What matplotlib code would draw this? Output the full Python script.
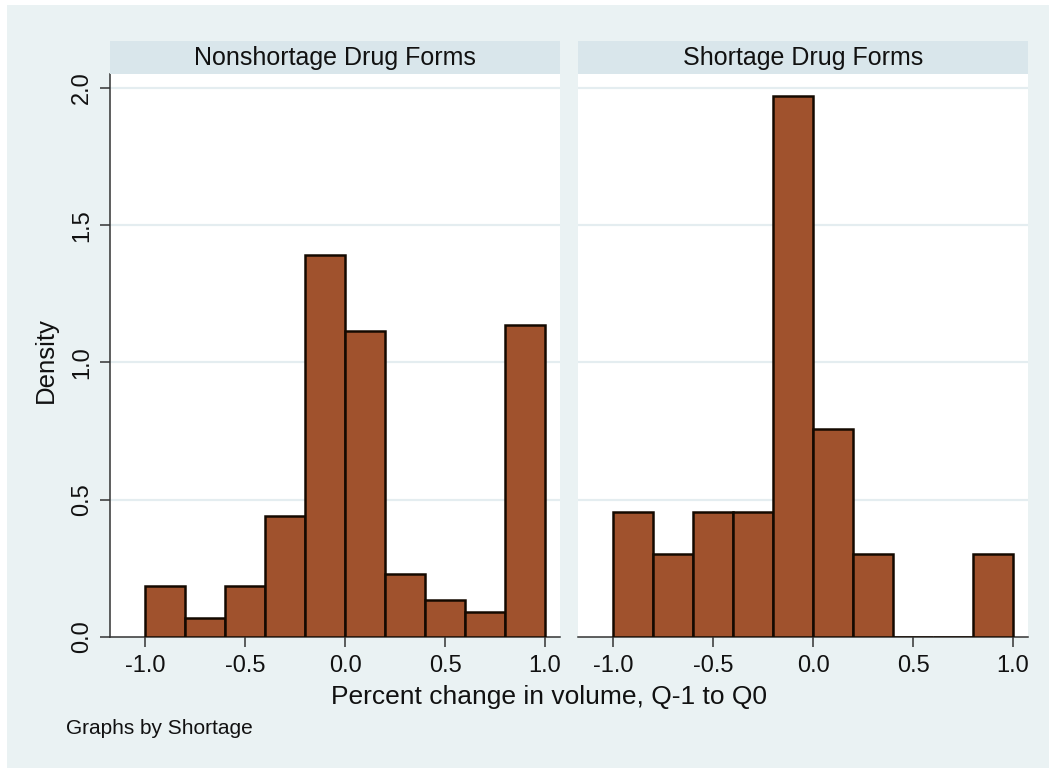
import matplotlib.pyplot as plt
from matplotlib.patches import Rectangle

plt.rcParams['font.family'] = ['Liberation Sans', 'DejaVu Sans']

# histogram bins (width 0.2) and density per bin for each group
bin_edges = [-1.0, -0.8, -0.6, -0.4, -0.2, 0.0, 0.2, 0.4, 0.6, 0.8]
bin_width = 0.2
nonshortage_density = [0.184, 0.068, 0.184, 0.439, 1.392, 1.113, 0.229, 0.136, 0.091, 1.136]
shortage_density = [0.455, 0.303, 0.455, 0.455, 1.970, 0.758, 0.303, 0.0, 0.0, 0.303]

panel_titles = ['Nonshortage Drug Forms', 'Shortage Drug Forms']
x_ticks = [-1.0, -0.5, 0.0, 0.5, 1.0]
y_ticks = [0.0, 0.5, 1.0, 1.5, 2.0]

W, H = 1049, 768
BG = '#eaf2f3'
STRIP = '#d9e6eb'
BAR = '#a0522d'
EDGE = '#140900'
AXIS = '#333333'
TXT = '#111111'


def px(x0, y0, x1, y1):
    return [x0 / W, 1 - y1 / H, (x1 - x0) / W, (y1 - y0) / H]


fig = plt.figure(figsize=(W / 100, H / 100), dpi=100)
fig.patch.set_facecolor('white')
fig.patches.append(Rectangle((7 / W, 0), 1, 1 - 5 / H, transform=fig.transFigure,
                             facecolor=BG, edgecolor='none', zorder=-10))

panels = [(110, 560, nonshortage_density), (578, 1028, shortage_density)]
for i, (x0, x1, dens) in enumerate(panels):
    ax = fig.add_axes(px(x0, 74, x1, 637))
    ax.set_facecolor('white')
    ax.bar(bin_edges, dens, width=bin_width, align='edge', color=BAR,
           edgecolor=EDGE, linewidth=1.8, zorder=3)
    ax.set_xlim(-1.175, 1.075)
    ax.set_ylim(0, 2.051)
    for yv in y_ticks[1:]:
        ax.axhline(yv, color='#e4edf0', lw=1.6, zorder=1)
    ax.set_xticks(x_ticks)
    ax.set_xticklabels([f'{v:.1f}' for v in x_ticks])
    ax.tick_params(axis='x', length=7, width=1.1, color=AXIS, pad=6,
                   labelsize=17, labelcolor=TXT)
    for s in ['top', 'right']:
        ax.spines[s].set_visible(False)
    ax.spines['bottom'].set_color(AXIS)
    ax.spines['bottom'].set_linewidth(1.1)
    if i == 0:
        ax.spines['left'].set_color(AXIS)
        ax.spines['left'].set_linewidth(1.1)
        ax.set_yticks(y_ticks)
        ax.set_yticklabels([f'{v:.1f}' for v in y_ticks], rotation=90, va='center')
        ax.tick_params(axis='y', length=7, width=1.1, color=AXIS, pad=5,
                       labelsize=17, labelcolor=TXT)
    else:
        ax.spines['left'].set_visible(False)
        ax.set_yticks([])

    # panel header strip
    hx = fig.add_axes(px(x0, 41, x1, 74))
    hx.set_facecolor(STRIP)
    hx.set_xticks([])
    hx.set_yticks([])
    for s in hx.spines.values():
        s.set_visible(False)
    hx.text(0.5, 0.5, panel_titles[i], ha='center', va='center',
            fontsize=18, color=TXT, transform=hx.transAxes)

fig.text(46 / W, 1 - 360 / H, 'Density', rotation=90, ha='center', va='center',
         fontsize=18.5, color=TXT)
fig.text(549 / W, 1 - 697 / H, 'Percent change in volume, Q-1 to Q0',
         ha='center', va='center', fontsize=19, color=TXT)
fig.text(66 / W, 1 - 728 / H, 'Graphs by Shortage', ha='left', va='center',
         fontsize=15, color=TXT)

fig.savefig('out.png', dpi=100, facecolor=fig.get_facecolor())
